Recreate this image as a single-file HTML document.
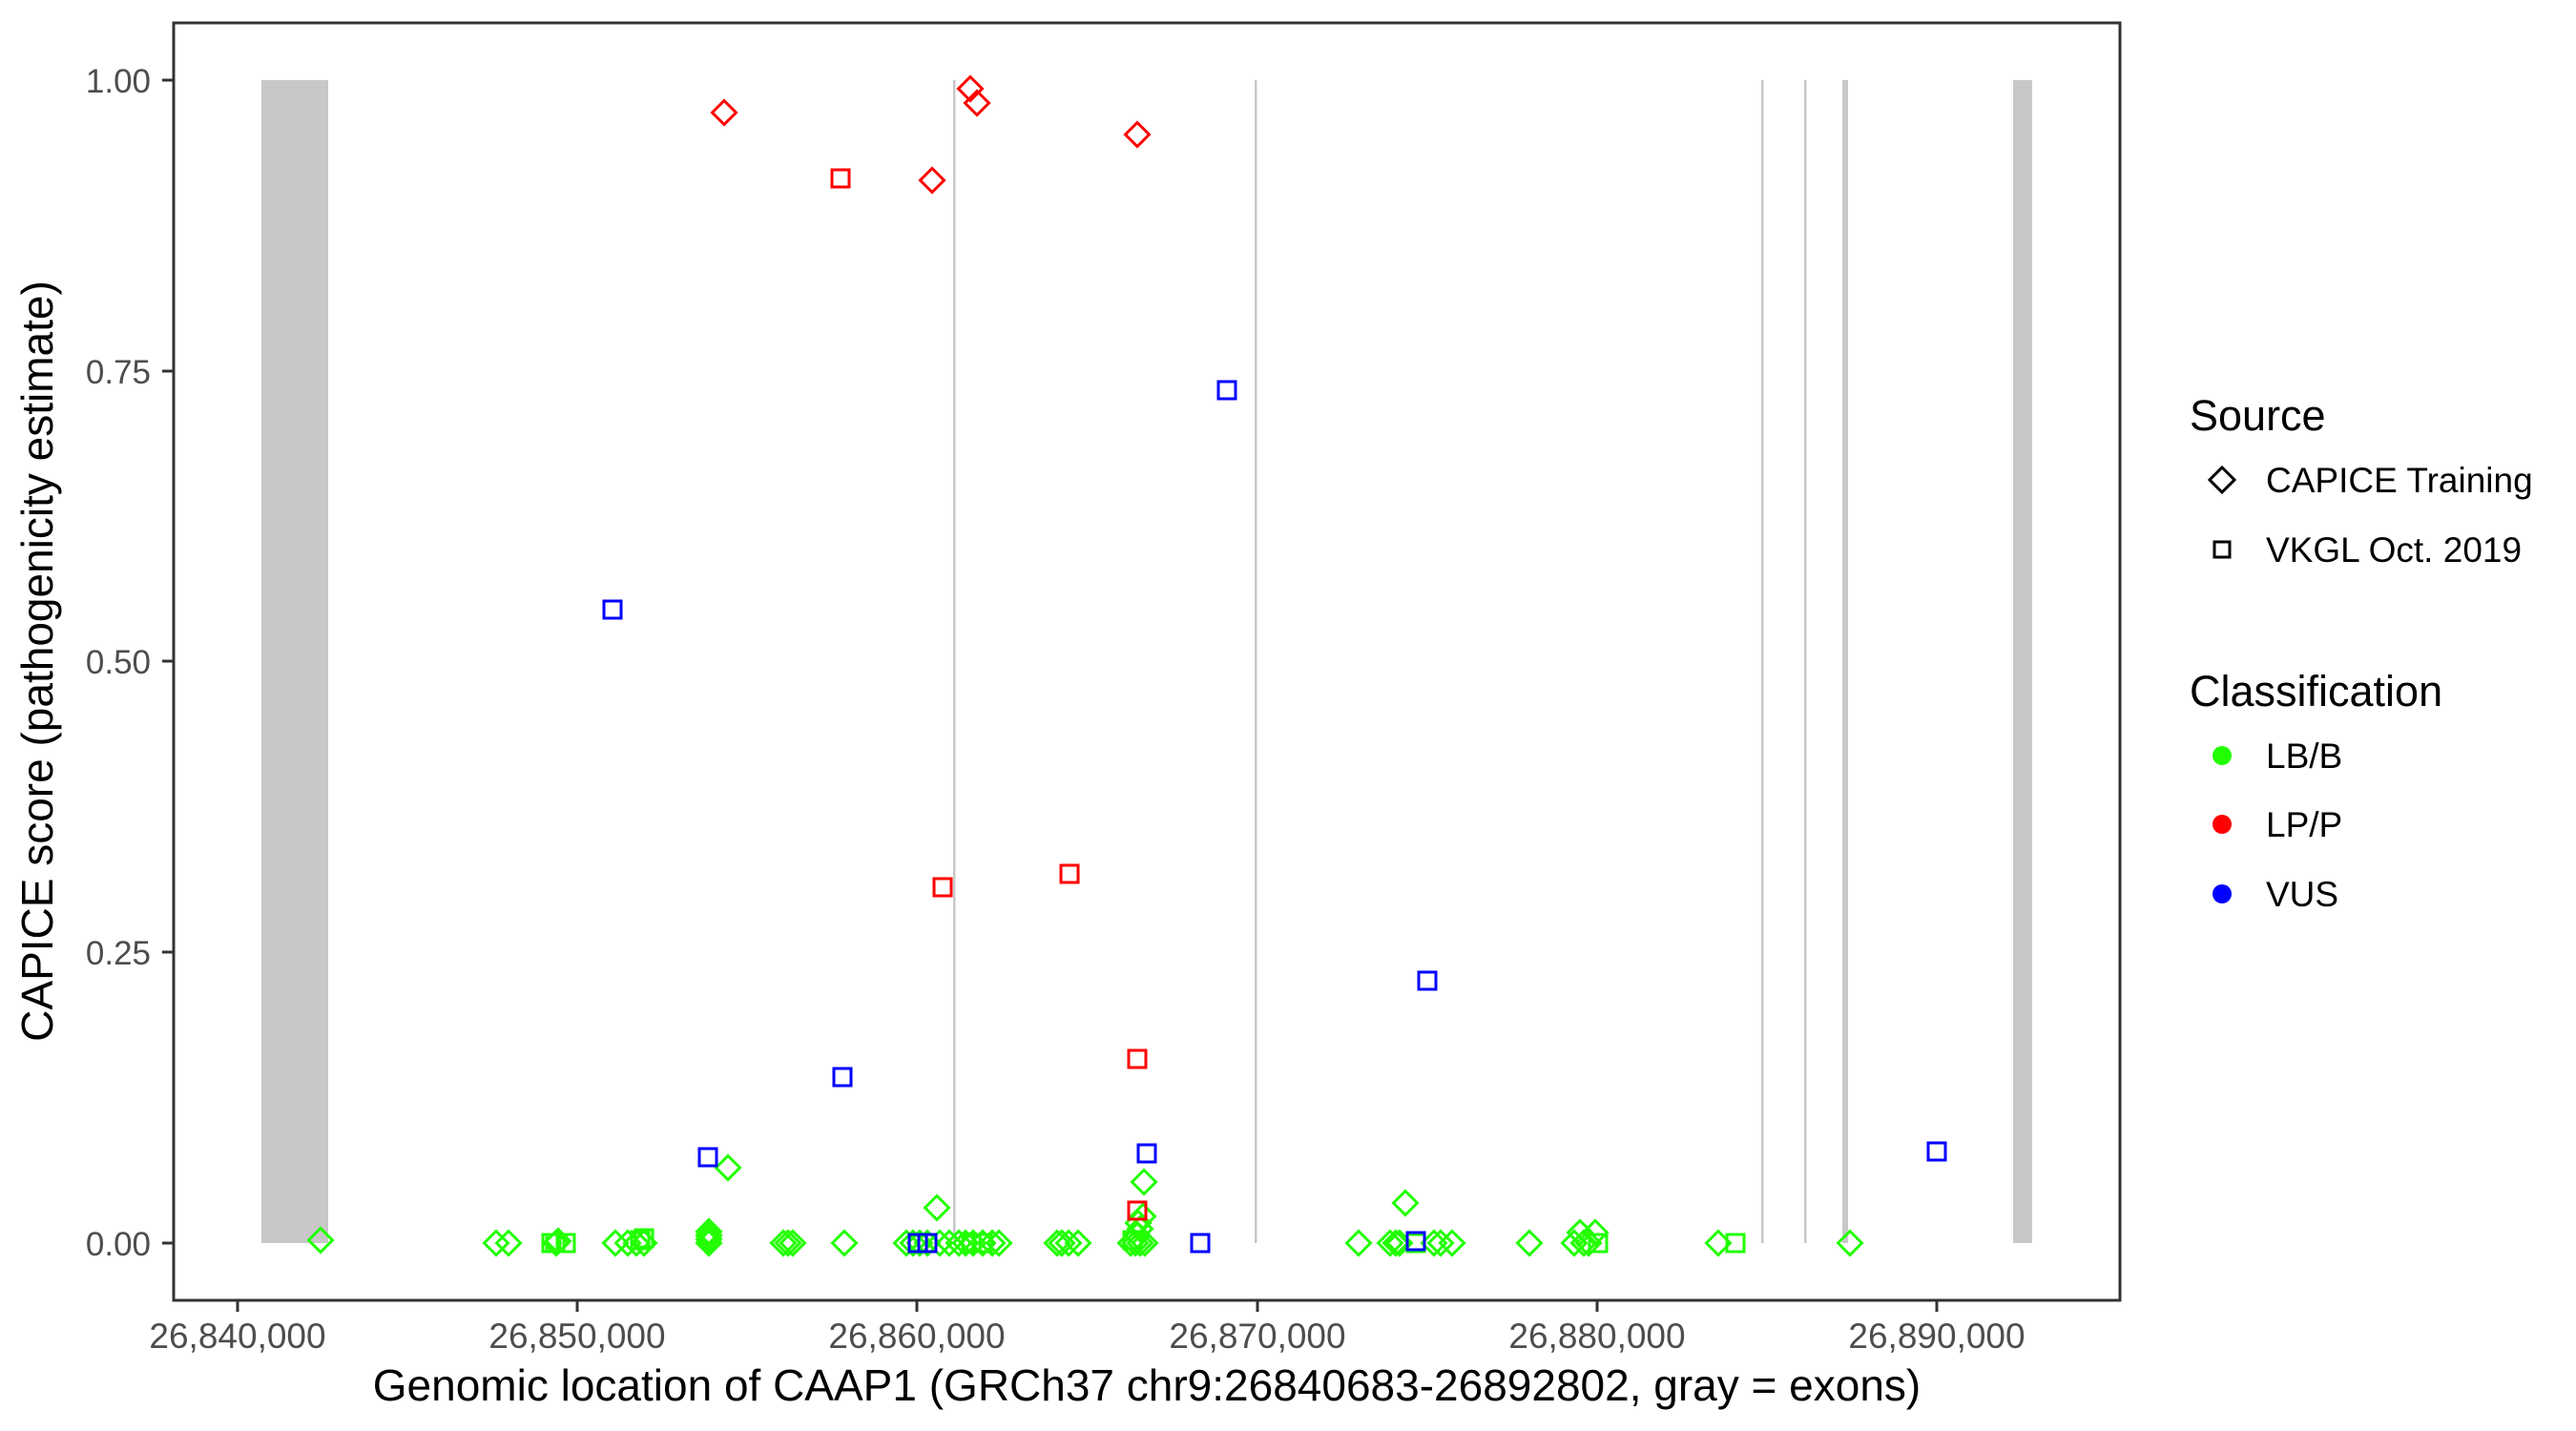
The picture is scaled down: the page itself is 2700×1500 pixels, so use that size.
<!DOCTYPE html>
<html><head><meta charset="utf-8"><style>html,body{margin:0;padding:0;background:#fff}svg{display:block}</style></head>
<body>
<svg xmlns="http://www.w3.org/2000/svg" width="2700" height="1500" viewBox="0 0 2700 1500" font-family="Liberation Sans, Arial, sans-serif">
<defs>
<path id="dm" d="M0,-12.5 L12.5,0 L0,12.5 L-12.5,0 Z" fill="none" stroke-width="3"/>
<rect id="sq" x="-9" y="-9" width="18" height="18" fill="none" stroke-width="3"/>
</defs>
<rect width="2700" height="1500" fill="#fff"/>
<g fill="#c8c8c8">
<rect x="274" y="84" width="70" height="1219"/>
<rect x="999" y="84" width="2.5" height="1219"/>
<rect x="1315" y="84" width="2.5" height="1219"/>
<rect x="1846" y="84" width="2.5" height="1219"/>
<rect x="1891" y="84" width="2.5" height="1219"/>
<rect x="1931" y="84" width="6" height="1219"/>
<rect x="2110" y="84" width="20" height="1219"/>
</g>
<g stroke="#22ff00">
<use href="#dm" x="336" y="1300"/>
<use href="#dm" x="520" y="1303"/><use href="#dm" x="533" y="1303"/>
<use href="#sq" x="578" y="1303"/><use href="#sq" x="582" y="1303"/><use href="#sq" x="593" y="1303"/>
<use href="#dm" x="583" y="1303"/><use href="#dm" x="585" y="1301"/>
<use href="#dm" x="645" y="1303"/><use href="#dm" x="658" y="1303"/><use href="#dm" x="667" y="1303"/><use href="#dm" x="675" y="1303"/>
<use href="#sq" x="675" y="1298"/><use href="#sq" x="671" y="1300"/>
<use href="#dm" x="743" y="1303"/><use href="#dm" x="743" y="1299"/><use href="#dm" x="743" y="1295"/><use href="#dm" x="743" y="1291"/>
<use href="#dm" x="821" y="1303"/><use href="#dm" x="826" y="1303"/><use href="#dm" x="831" y="1303"/>
<use href="#dm" x="885" y="1303"/>
<use href="#dm" x="950" y="1303"/><use href="#dm" x="957" y="1303"/><use href="#dm" x="964" y="1303"/><use href="#dm" x="972" y="1303"/>
<use href="#dm" x="985" y="1303"/><use href="#dm" x="995" y="1303"/><use href="#dm" x="1005" y="1303"/><use href="#dm" x="1012" y="1303"/>
<use href="#dm" x="1020" y="1303"/><use href="#dm" x="1030" y="1303"/><use href="#dm" x="1040" y="1303"/><use href="#dm" x="1047" y="1303"/>
<use href="#sq" x="1018" y="1303"/><use href="#sq" x="1030" y="1303"/>
<use href="#dm" x="1108" y="1303"/><use href="#dm" x="1113" y="1303"/><use href="#dm" x="1120" y="1303"/><use href="#dm" x="1130" y="1303"/>
<use href="#dm" x="1185" y="1303"/><use href="#dm" x="1190" y="1303"/><use href="#dm" x="1195" y="1303"/><use href="#dm" x="1200" y="1303"/>
<use href="#dm" x="1192" y="1295"/><use href="#dm" x="1195" y="1288"/><use href="#dm" x="1193" y="1282"/><use href="#dm" x="1198" y="1275"/>
<use href="#sq" x="1187" y="1300"/>
<use href="#dm" x="1424" y="1303"/>
<use href="#dm" x="1457" y="1303"/><use href="#dm" x="1463" y="1303"/><use href="#dm" x="1467" y="1303"/>
<use href="#sq" x="1484" y="1303"/>
<use href="#dm" x="1503" y="1303"/><use href="#dm" x="1510" y="1303"/><use href="#dm" x="1522" y="1303"/>
<use href="#dm" x="1603" y="1303"/>
<use href="#dm" x="1650" y="1303"/><use href="#dm" x="1656" y="1292"/><use href="#dm" x="1660" y="1303"/><use href="#dm" x="1665" y="1303"/><use href="#dm" x="1672" y="1292"/>
<use href="#sq" x="1675" y="1303"/>
<use href="#dm" x="1801" y="1303"/><use href="#sq" x="1819" y="1303"/>
<use href="#dm" x="1939" y="1303"/>
<use href="#dm" x="763" y="1224"/><use href="#dm" x="982" y="1266"/><use href="#dm" x="1199" y="1239"/><use href="#dm" x="1473" y="1261"/>
</g>
<g stroke="#ff0000">
<use href="#dm" x="759" y="118"/><use href="#dm" x="1017" y="93"/><use href="#dm" x="1024" y="108"/><use href="#dm" x="977" y="189"/><use href="#dm" x="1192" y="141"/>
<use href="#sq" x="881" y="187"/><use href="#sq" x="988" y="930"/><use href="#sq" x="1121" y="916"/><use href="#sq" x="1192" y="1110"/><use href="#sq" x="1192" y="1269"/>
</g>
<g stroke="#0000ff">
<use href="#sq" x="1286" y="409"/><use href="#sq" x="642" y="639"/><use href="#sq" x="883" y="1129"/><use href="#sq" x="742" y="1213"/>
<use href="#sq" x="1496" y="1028"/><use href="#sq" x="1202" y="1209"/><use href="#sq" x="2030" y="1207"/><use href="#sq" x="1258" y="1303"/>
<use href="#sq" x="962" y="1303"/><use href="#sq" x="972" y="1303"/><use href="#sq" x="1484" y="1301"/>
</g>
<rect x="182" y="24" width="2040" height="1339" fill="none" stroke="#333" stroke-width="3"/>
<g stroke="#333" stroke-width="3">
<line x1="170" y1="84" x2="182" y2="84"/><line x1="170" y1="389" x2="182" y2="389"/><line x1="170" y1="693" x2="182" y2="693"/><line x1="170" y1="998" x2="182" y2="998"/><line x1="170" y1="1303" x2="182" y2="1303"/>
<line x1="249" y1="1363" x2="249" y2="1375"/><line x1="605" y1="1363" x2="605" y2="1375"/><line x1="961" y1="1363" x2="961" y2="1375"/><line x1="1318" y1="1363" x2="1318" y2="1375"/><line x1="1674" y1="1363" x2="1674" y2="1375"/><line x1="2030" y1="1363" x2="2030" y2="1375"/>
</g>
<g fill="#4d4d4d" font-size="35" text-anchor="end">
<text x="158" y="97">1.00</text><text x="158" y="402">0.75</text><text x="158" y="706">0.50</text><text x="158" y="1011">0.25</text><text x="158" y="1316">0.00</text>
</g>
<g fill="#4d4d4d" font-size="37" text-anchor="middle">
<text x="249" y="1413">26,840,000</text><text x="605" y="1413">26,850,000</text><text x="961" y="1413">26,860,000</text><text x="1318" y="1413">26,870,000</text><text x="1674" y="1413">26,880,000</text><text x="2030" y="1413">26,890,000</text>
</g>
<text x="1202" y="1468" font-size="46" text-anchor="middle" fill="#000">Genomic location of CAAP1 (GRCh37 chr9:26840683-26892802, gray = exons)</text>
<text transform="translate(55,693) rotate(-90)" font-size="46" text-anchor="middle" fill="#000">CAPICE score (pathogenicity estimate)</text>
<text x="2295" y="451" font-size="45" fill="#000">Source</text>
<path d="M2329,490 L2342,503 L2329,516 L2316,503 Z" fill="none" stroke="#000" stroke-width="3"/>
<text x="2375" y="516" font-size="37" fill="#000">CAPICE Training</text>
<rect x="2321" y="568" width="16" height="16" fill="none" stroke="#000" stroke-width="3"/>
<text x="2375" y="589" font-size="37" fill="#000">VKGL Oct. 2019</text>
<text x="2295" y="740" font-size="45" fill="#000">Classification</text>
<circle cx="2329" cy="792" r="10" fill="#22ff00"/>
<text x="2375" y="805" font-size="37" fill="#000">LB/B</text>
<circle cx="2329" cy="864" r="10" fill="#ff0000"/>
<text x="2375" y="877" font-size="37" fill="#000">LP/P</text>
<circle cx="2329" cy="937" r="10" fill="#0000ff"/>
<text x="2375" y="950" font-size="37" fill="#000">VUS</text>
</svg>
</body></html>
